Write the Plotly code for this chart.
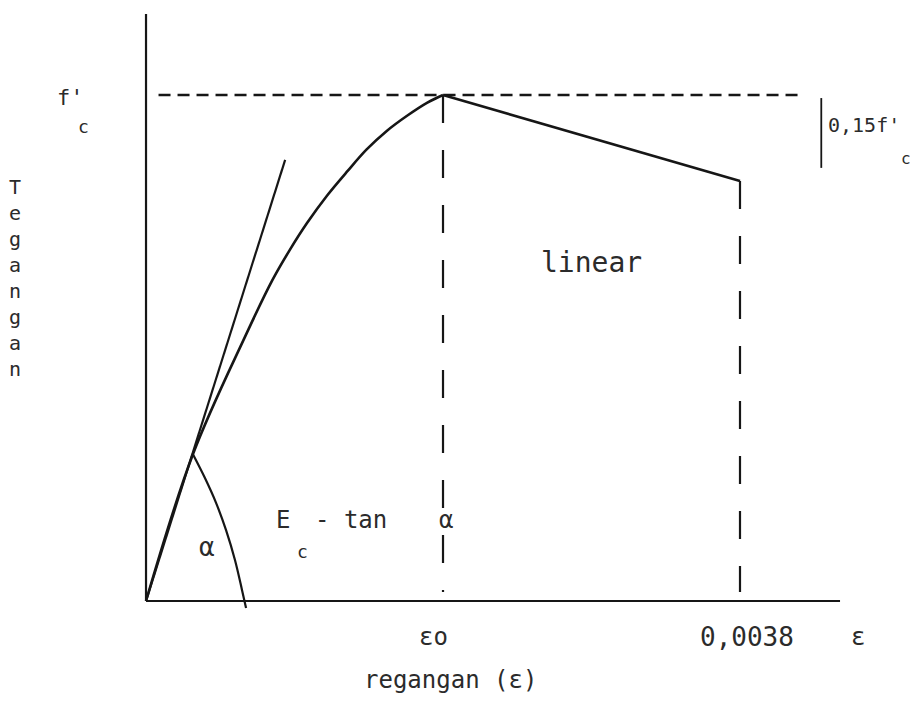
import plotly.graph_objects as go

# stress-strain diagram (Hognestad type)
# strain in mm/mm, stress as a fraction of f'c
eps_curve = [0, 0.00030, 0.00063, 0.00081, 0.00092, 0.00103, 0.00116, 0.00129,
             0.00141, 0.00154, 0.00167, 0.00180, 0.00190]
f_curve = [0, 0.29, 0.52, 0.635, 0.694, 0.747, 0.802, 0.850,
           0.892, 0.929, 0.959, 0.985, 1.0]

eps0 = 0.0019
eps_u = 0.0038
f_peak = 1.0
f_end = 0.83

eps_linear = [eps0, eps_u]
f_linear = [f_peak, f_end]

# tangent line at origin (Ec)
eps_tan = [0, 0.00089]
f_tan = [0, 0.872]

# arc marking the angle alpha
eps_arc = [0.00030, 0.000377, 0.000448, 0.000512, 0.000569, 0.000614, 0.00064]
f_arc = [0.29, 0.243, 0.194, 0.140, 0.081, 0.022, -0.014]

# axis extents and helper lines
x_axis_end = 0.00444
y_axis_end = 1.16
fc_dash_x = [0.00008, 0.0042]
drop_bottom = 0.018
bar_x = 0.00432
bar_y = [0.994, 0.856]

INK = "#161616"
TXT = "#2b2b2b"
FONT = "DejaVu Sans Mono"

fig = go.Figure()


def line(x, y, width=2.4, dash="solid", shape="linear"):
    fig.add_trace(go.Scatter(x=x, y=y, mode="lines", hoverinfo="skip",
                             line=dict(color=INK, width=width, dash=dash, shape=shape,
                                       smoothing=1.0 if shape == "spline" else None)))


# axes
line([0, 0], [0, y_axis_end], width=2.2)
line([0, x_axis_end], [0, 0], width=2.2)

# f'c level and drop lines
line(fc_dash_x, [f_peak, f_peak], width=2.4, dash="12px,7px")
line([eps0, eps0], [f_peak, drop_bottom], width=2.2, dash="28px,27px")
line([eps_u, eps_u], [f_end, drop_bottom], width=2.2, dash="28px,27px")
line([bar_x, bar_x], bar_y, width=1.8)

# curve, descending branch, tangent and angle arc
line(eps_curve, f_curve, width=2.6, shape="spline")
line(eps_linear, f_linear, width=2.6)
line(eps_tan, f_tan, width=2.2)
line(eps_arc, f_arc, width=2.2, shape="spline")


def txt(x, y, s, size=24, anchor="center"):
    fig.add_annotation(x=x, y=y, text=s, showarrow=False, xanchor=anchor,
                       yanchor="middle", font=dict(family=FONT, size=size, color=TXT))


txt(-0.000486, 0.996, "f'", size=22)
txt(-0.000403, 0.937, "c", size=18)
txt(-0.000838, 0.638, "T<br>e<br>g<br>a<br>n<br>g<br>a<br>n", size=20)

txt(0.002847, 0.670, "linear", size=28)

txt(0.00039, 0.107, "α", size=26)
txt(0.000876, 0.160, "E", size=24)
txt(0.001004, 0.097, "c", size=18)
txt(0.00107, 0.160, "- tan", size=24, anchor="left")
txt(0.00192, 0.160, "α", size=24)

txt(0.001842, -0.071, "εo", size=24)
txt(0.003845, -0.071, "0,0038", size=26)
txt(0.004555, -0.071, "ε", size=24)
txt(0.001945, -0.156, "regangan (ε)", size=24)

txt(0.00435, 0.941, "0,15f'", size=20, anchor="left")
txt(0.00486, 0.875, "c", size=16)

# the page body adds an 8px margin on every side, so the figure is made
# 16px smaller and the ranges start 8px in
fig.update_layout(
    width=908, height=689,
    margin=dict(l=0, r=0, t=0, b=0),
    paper_bgcolor="white", plot_bgcolor="white",
    showlegend=False,
    xaxis=dict(range=[-0.000883, 0.004926], visible=False, fixedrange=True),
    yaxis=dict(range=[-0.1897, 1.172], visible=False, fixedrange=True),
)

fig.write_html("out.html")
